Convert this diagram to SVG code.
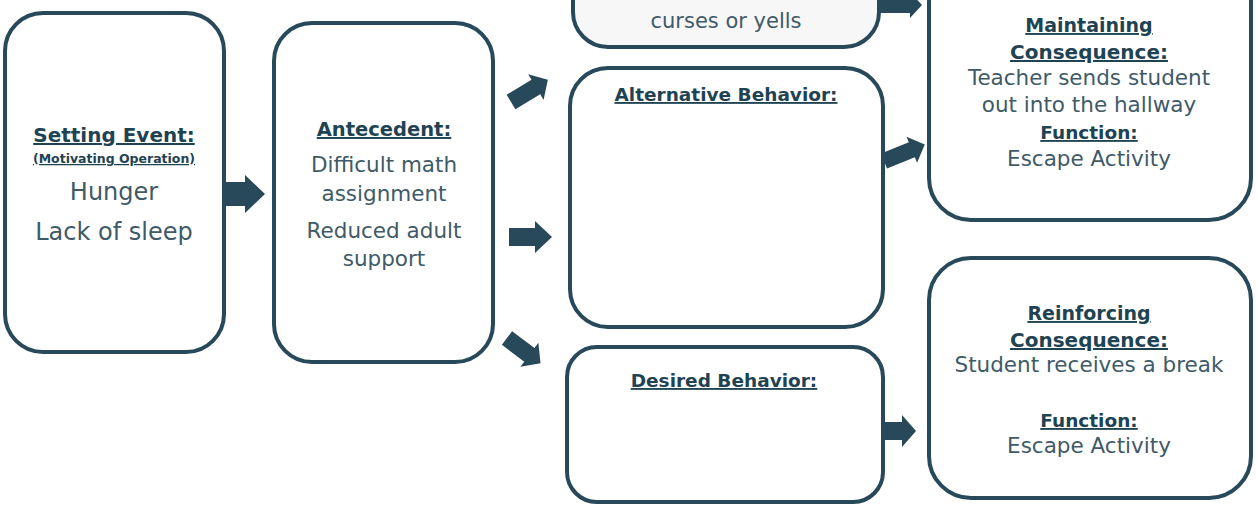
<svg xmlns="http://www.w3.org/2000/svg" width="1257" height="508" viewBox="0 0 1257 508">
<style>
.box{fill:#ffffff;stroke:#27495a;stroke-width:4}
.gray{fill:#f7f7f7}
.arr{fill:#27495a}
text{font-family:"DejaVu Sans","Liberation Sans",sans-serif;text-anchor:middle}
.h{font-weight:bold;fill:#1f4352;text-decoration:underline}
.b{fill:#405a67}
</style>
<rect width="1257" height="508" fill="#ffffff"/>
<g id="connectors">
  <polygon class="arr" transform="translate(222,194)" points="0,-12 23,-12 23,-19 43,0 23,19 23,12 0,12"/>
  <polygon class="arr" transform="translate(511,102) rotate(-31)" points="0,-8.5 29,-8.5 29,-15 43,0 29,15 29,8.5 0,8.5"/>
  <polygon class="arr" transform="translate(509,237)" points="0,-9 26,-9 26,-16 43,0 26,16 26,9 0,9"/>
  <polygon class="arr" transform="translate(507,338) rotate(37)" points="0,-8.5 28,-8.5 28,-15 42,0 28,15 28,8.5 0,8.5"/>
  <polygon class="arr" transform="translate(880,5)" points="0,-8 30,-8 30,-13 42,0 30,13 30,8 0,8"/>
  <polygon class="arr" transform="translate(884,161) rotate(-22)" points="0,-8 30,-8 30,-14 44,0 30,14 30,8 0,8"/>
  <polygon class="arr" transform="translate(884,431)" points="0,-9 18,-9 18,-16 32,0 18,16 18,9 0,9"/>
</g>
<g id="setting-event">
  <rect class="box" x="5" y="13" width="219" height="339" rx="38"/>
  <text class="h" x="114" y="142" font-size="20">Setting Event:</text>
  <text class="h" x="114" y="163" font-size="12.5">(Motivating Operation)</text>
  <text class="b" x="114" y="200" font-size="24">Hunger</text>
  <text class="b" x="114" y="240" font-size="24">Lack of sleep</text>
</g>
<g id="antecedent">
  <rect class="box" x="274" y="23" width="219" height="339" rx="38"/>
  <text class="h" x="384" y="136" font-size="19.5">Antecedent:</text>
  <text class="b" x="384" y="172" font-size="21.5">Difficult math</text>
  <text class="b" x="384" y="201" font-size="21.5">assignment</text>
  <text class="b" x="384" y="238" font-size="21.5">Reduced adult</text>
  <text class="b" x="384" y="266" font-size="21.5">support</text>
</g>
<g id="problem-behavior">
  <rect class="box gray" x="573" y="-40" width="306" height="87" rx="35"/>
  <text class="b" x="726" y="28" font-size="21">curses or yells</text>
</g>
<g id="alternative-behavior">
  <rect class="box" x="570" y="68" width="313" height="259" rx="38"/>
  <text class="h" x="726" y="101" font-size="18.5">Alternative Behavior:</text>
</g>
<g id="desired-behavior">
  <rect class="box" x="567" y="347" width="316" height="155" rx="30"/>
  <text class="h" x="724" y="387" font-size="18.5">Desired Behavior:</text>
</g>
<g id="maintaining-consequence">
  <rect class="box" x="929" y="-40" width="322" height="260" rx="42"/>
  <text class="h" x="1089" y="32" font-size="19">Maintaining</text>
  <text class="h" x="1089" y="59" font-size="20">Consequence:</text>
  <text class="b" x="1089" y="85" font-size="21.5">Teacher sends student</text>
  <text class="b" x="1089" y="112" font-size="21.5">out into the hallway</text>
  <text class="h" x="1089" y="139" font-size="18.5">Function:</text>
  <text class="b" x="1089" y="166" font-size="21.5">Escape Activity</text>
</g>
<g id="reinforcing-consequence">
  <rect class="box" x="929" y="258" width="322" height="240" rx="42"/>
  <text class="h" x="1089" y="320" font-size="19">Reinforcing</text>
  <text class="h" x="1089" y="347" font-size="20">Consequence:</text>
  <text class="b" x="1089" y="372" font-size="21.5">Student receives a break</text>
  <text class="h" x="1089" y="427" font-size="18.5">Function:</text>
  <text class="b" x="1089" y="453" font-size="21.5">Escape Activity</text>
</g>
</svg>
